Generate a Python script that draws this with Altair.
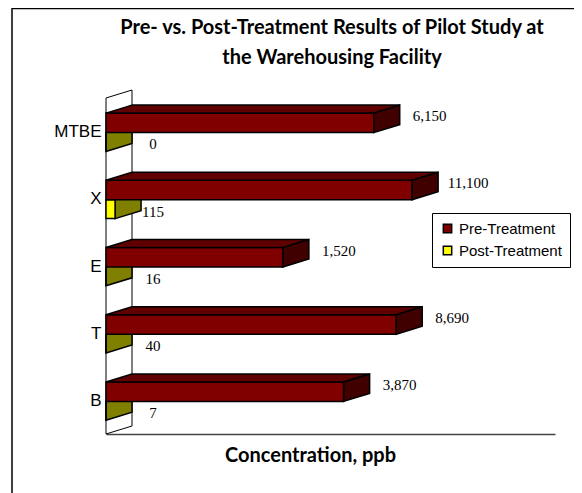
import altair as alt
import pandas as pd

categories = ["B", "T", "E", "X", "MTBE"]
pre_treatment = [3870, 8690, 1520, 11100, 6150]
post_treatment = [7, 40, 16, 115, 0]
pre_labels = ["3,870", "8,690", "1,520", "11,100", "6,150"]
post_labels = ["7", "40", "16", "115", "0"]
series_names = ["Pre-Treatment", "Post-Treatment"]
tick_values = [0.5, 1.5, 2.5, 3.5, 4.5]
title_lines = ["Pre- vs. Post-Treatment Results of Pilot Study at", "the Warehousing Facility"]

AXIS_MIN, AXIS_MAX = 100, 100000
W, H = 449, 336
DEPTH_X = 10 ** (26 / (W / 3))          # 26 px of depth on the log axis
DEPTH_Y = 8 / (H / 5)                   # 8 px of depth in band units
PRE_TOP, PRE_BOT, POST_BOT = 0.775, 0.485, 0.205

front, top, side_pre, side_post, pre_text, post_text = [], [], [], [], [], []
for i, cat in enumerate(categories):
    pre = max(pre_treatment[i], AXIS_MIN)
    post = max(post_treatment[i], AXIS_MIN)
    front.append(dict(cat=cat, series=series_names[0], x=AXIS_MIN, x2=pre, y=i + PRE_BOT, y2=i + PRE_TOP))
    front.append(dict(cat=cat, series=series_names[1], x=AXIS_MIN, x2=post, y=i + POST_BOT, y2=i + PRE_BOT))
    top.append(dict(cat=cat, x=AXIS_MIN, x2=pre, y=i + PRE_TOP))
    top.append(dict(cat=cat, x=AXIS_MIN * DEPTH_X, x2=pre * DEPTH_X, y=i + PRE_TOP + DEPTH_Y))
    side_pre.append(dict(cat=cat, x=pre, y=i + PRE_BOT, y2=i + PRE_TOP))
    side_pre.append(dict(cat=cat, x=pre * DEPTH_X, y=i + PRE_BOT + DEPTH_Y, y2=i + PRE_TOP + DEPTH_Y))
    side_post.append(dict(cat=cat, x=post, y=i + POST_BOT, y2=i + PRE_BOT))
    side_post.append(dict(cat=cat, x=post * DEPTH_X, y=i + POST_BOT + DEPTH_Y, y2=i + PRE_BOT + DEPTH_Y))
    pre_text.append(dict(x=pre * DEPTH_X, y=i + 0.73, t=pre_labels[i]))
    post_text.append(dict(x=AXIS_MIN * DEPTH_X, y=i + 0.31, t=post_labels[i]))

wall_rows = [
    dict(x=AXIS_MIN, y=0, y2=5),
    dict(x=AXIS_MIN * DEPTH_X, y=DEPTH_Y, y2=5 + DEPTH_Y),
]

X = alt.X(
    "x:Q",
    scale=alt.Scale(type="log", domain=[AXIS_MIN, AXIS_MAX], nice=False),
    axis=alt.Axis(
        title="Concentration, ppb", labels=False, ticks=False, grid=False,
        domainColor="#444444", domainWidth=1.5,
        titleFont="Lato", titleFontWeight="bold", titleFontSize=20, titleColor="black",
        titleX=204, titleY=21, titleAlign="center", titleBaseline="middle",
    ),
)
label_expr = "{0.5:'B',1.5:'T',2.5:'E',3.5:'X',4.5:'MTBE'}[datum.value]"
Y = alt.Y(
    "y:Q",
    scale=alt.Scale(domain=[0, 5], nice=False, zero=False),
    axis=alt.Axis(
        title=None, values=tick_values, labelExpr=label_expr, domain=False, ticks=False,
        grid=False, labelFont="Liberation Sans", labelFontSize=17, labelColor="black",
        labelPadding=5,
    ),
)

edge = dict(stroke="black", strokeWidth=1.5)

wall = alt.Chart(pd.DataFrame(wall_rows)).mark_area(
    fill="white", stroke="black", strokeWidth=1, orient="vertical"
).encode(x=X, y=Y, y2="y2:Q")

post_side = alt.Chart(pd.DataFrame(side_post)).mark_area(
    fill="#808000", orient="vertical", **edge
).encode(x="x:Q", y="y:Q", y2="y2:Q", detail="cat:N")

fronts = alt.Chart(pd.DataFrame(front)).mark_rect(**edge).encode(
    x="x:Q", x2="x2:Q", y="y:Q", y2="y2:Q",
    color=alt.Color(
        "series:N",
        scale=alt.Scale(domain=series_names, range=["#800000", "#FFFF00"]),
        legend=alt.Legend(
            title=None, orient="none", legendX=326, legendY=115,
            fillColor="white", strokeColor="black", padding=8,
            symbolType="square", symbolSize=70, symbolStrokeColor="black", symbolStrokeWidth=1.5,
            labelFont="Liberation Sans", labelFontSize=15, labelColor="black",
            rowPadding=6, labelOffset=4,
        ),
    ),
    order=alt.Order("series:N", sort="ascending"),
)

pre_top = alt.Chart(pd.DataFrame(top)).mark_area(
    fill="#600000", orient="horizontal", **edge
).encode(x="x:Q", x2="x2:Q", y="y:Q", detail="cat:N")

pre_side = alt.Chart(pd.DataFrame(side_pre)).mark_area(
    fill="#400000", orient="vertical", **edge
).encode(x="x:Q", y="y:Q", y2="y2:Q", detail="cat:N")

val_font = dict(font="Liberation Serif", fontSize=15, color="black", align="center", baseline="middle")
pre_vals = alt.Chart(pd.DataFrame(pre_text)).mark_text(dx=30, **val_font).encode(x="x:Q", y="y:Q", text="t:N")
post_vals = alt.Chart(pd.DataFrame(post_text)).mark_text(dx=21, **val_font).encode(x="x:Q", y="y:Q", text="t:N")

frame_left = alt.Chart(pd.DataFrame({"a": [0]})).mark_rule(color="black", strokeWidth=1.5).encode(
    x=alt.value(-94), y=alt.value(-90), y2=alt.value(395)
)
frame_top = alt.Chart(pd.DataFrame({"a": [0]})).mark_rule(color="black", strokeWidth=1.5).encode(
    y=alt.value(-89.5), x=alt.value(-94), x2=alt.value(468)
)

title_font = dict(font="Lato", fontWeight="bold", fontSize=20, color="black", align="center", baseline="middle")
title_1 = alt.Chart(pd.DataFrame({"t": [title_lines[0]]})).mark_text(**title_font).encode(
    x=alt.value(226), y=alt.value(-70), text="t:N"
)
title_2 = alt.Chart(pd.DataFrame({"t": [title_lines[1]]})).mark_text(**title_font).encode(
    x=alt.value(226), y=alt.value(-40), text="t:N"
)

chart = alt.layer(
    wall, post_side, fronts, pre_top, pre_side, pre_vals, post_vals,
    frame_left, frame_top, title_1, title_2
).properties(
    width=W, height=H,
    autosize=alt.AutoSizeParams(type="none"),
    padding={"left": 98, "top": 90, "right": 19, "bottom": 59},
    background="white",
).configure_view(strokeWidth=0)

chart.save("out.html", embed_options={"renderer": "svg", "actions": False})
